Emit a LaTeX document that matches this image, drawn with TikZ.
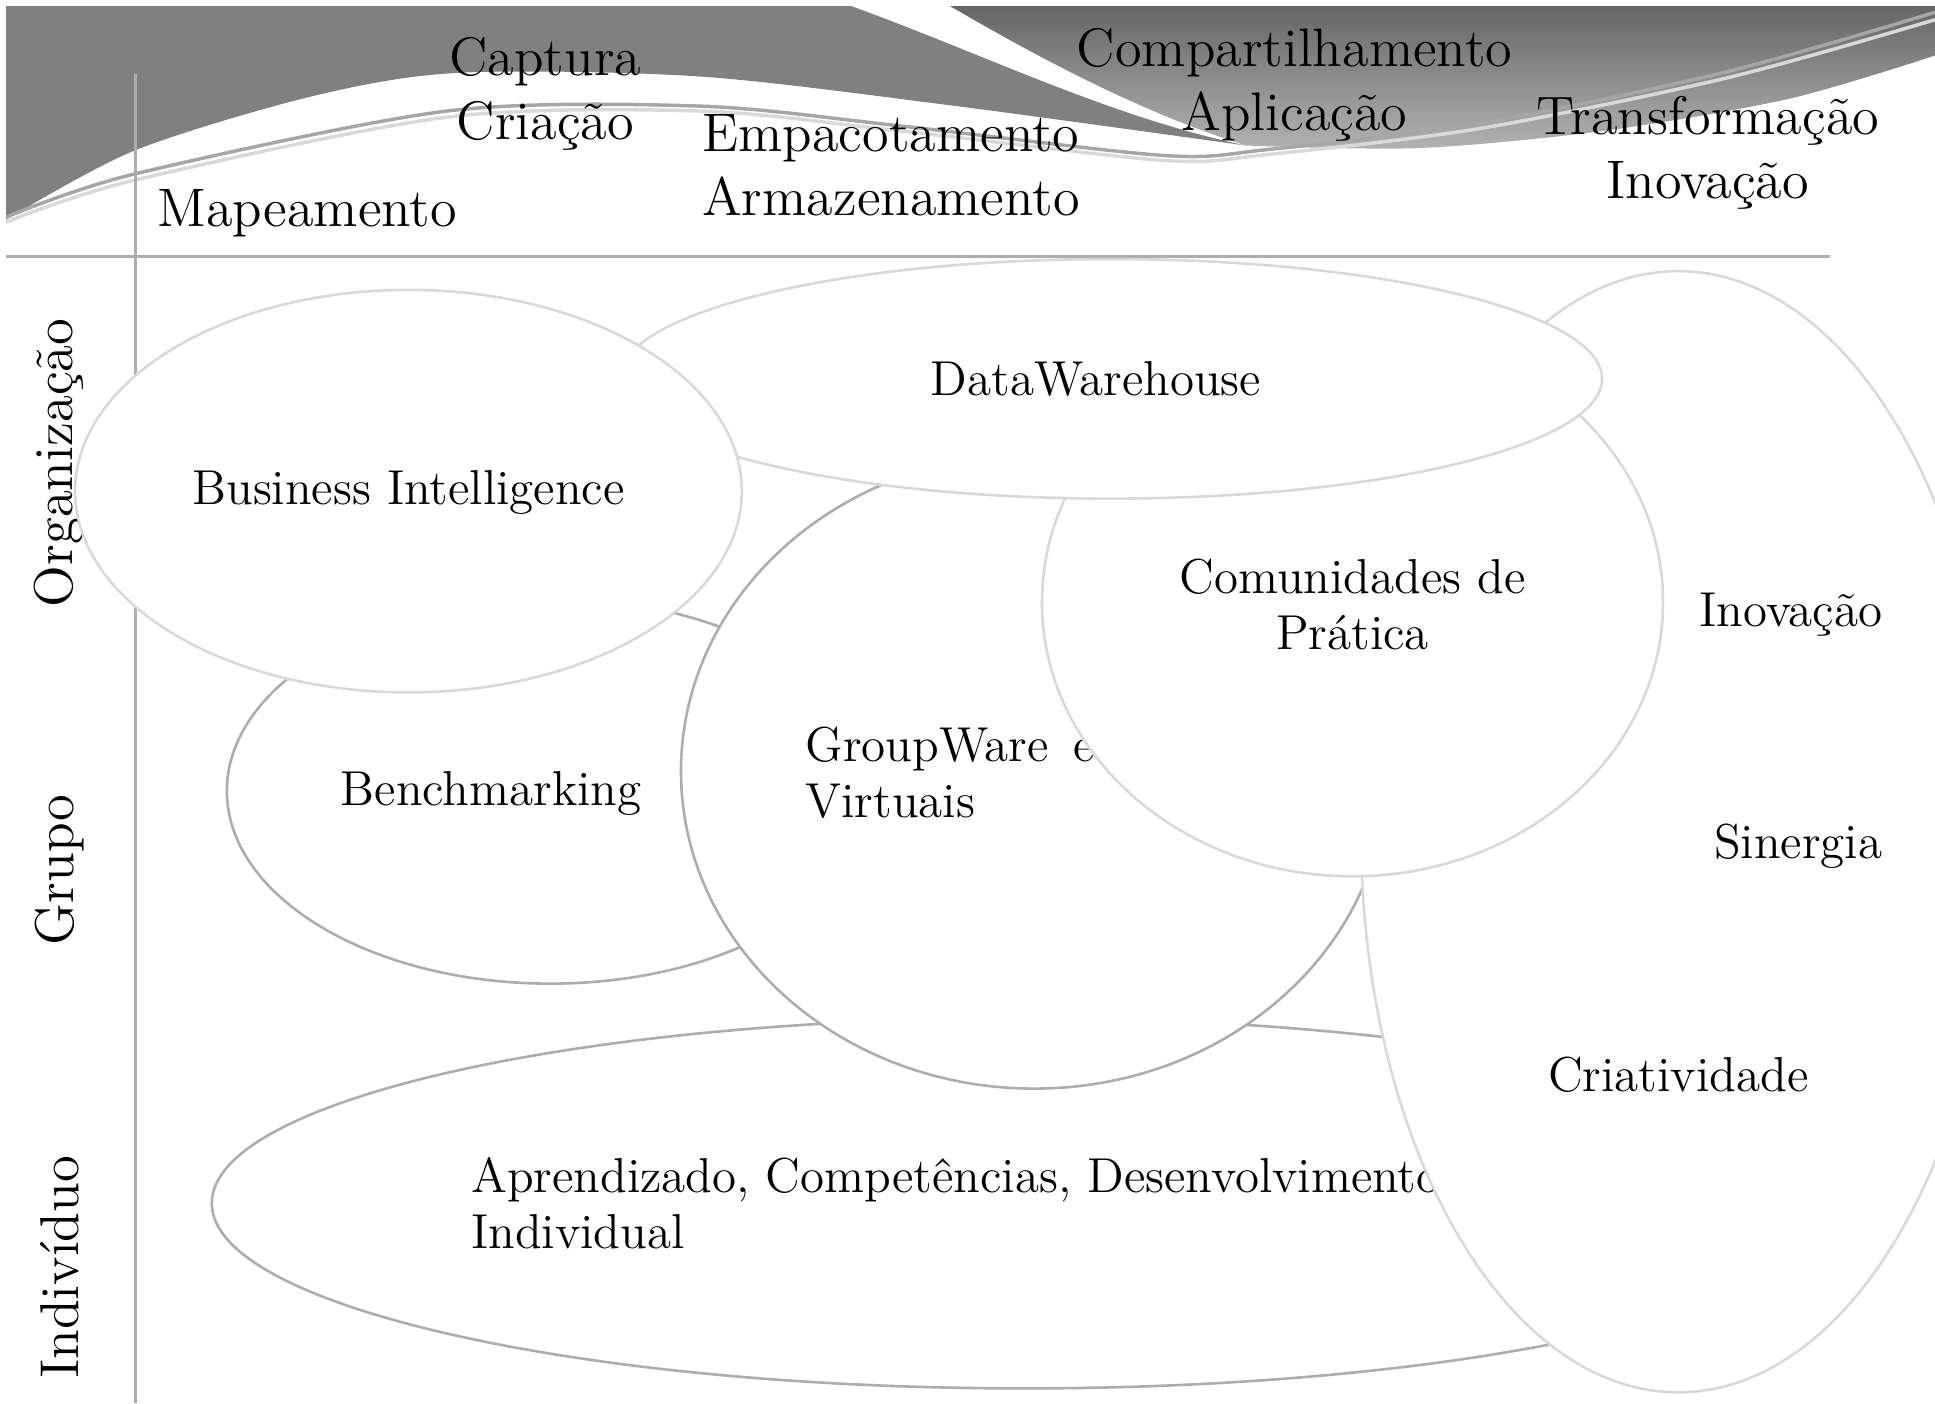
\documentclass[tikz,border=0pt]{standalone}
\usepackage{fontspec}
\usetikzlibrary{shapes.geometric}

\begin{document}
\begin{tikzpicture}[x=0.01cm,y=-0.01cm]
\tikzstyle{blob}=[ellipse,draw=black!15,line width=0.6pt,fill=white,inner sep=0pt]
\tikzstyle{blobdark}=[blob,draw=black!32]
\tikzstyle{lbl}=[font=\fontsize{11.3}{12.8}\selectfont,align=left,inner sep=0pt]
\tikzstyle{stagetxt}=[font=\fontsize{12.5}{14.8}\selectfont,align=center,inner sep=0pt]
\tikzstyle{rowname}=[font=\fontsize{12.6}{14}\selectfont,rotate=90,inner sep=0pt]
\tikzstyle{rule}=[draw=black!32,line width=0.6pt]

\clip (0,0) rectangle (1568,1137);

\fill[black!50] (5,5) -- (690,5) .. controls (800,45) and (900,95) .. (1010,118)
  -- plot[smooth] coordinates {(1010,118) (775,86) (567,62) (372,59) (253,78) (109,122) (5,178)} -- cycle;
\shade[top color=black!60,bottom color=black!30] (770,5) -- (1568,5) -- (1568,45)
  -- plot[smooth] coordinates {(1568,45) (1450,80) (1300,106) (1150,120) (1010,118)}
  .. controls (920,90) and (830,40) .. (770,5) -- cycle;
\draw[black!35,line width=0.8pt] plot[smooth] coordinates {(5,176) (109,141) (362,90) (567,86) (729,102) (943,126) (1029,121) (1200,100) (1400,58) (1568,10)};
\draw[black!15,line width=0.8pt] plot[smooth] coordinates {(5,180) (109,146) (362,95) (567,90) (729,106) (943,130) (1029,125) (1200,104) (1400,63) (1568,16)};

\node[stagetxt] (captura) at (442,76)  {Captura\\Criação} ;
\node[stagetxt] (mapa) at (249,173) {Mapeamento} ;
\node[stagetxt] (empacota) at (722,134) {Empacotamento\\Armazenamento} ;
\node[stagetxt] (partilha) at (1049,69) {Compartilhamento\\Aplicação} ;
\node[stagetxt] (transforma) at (1384,124) {Transformação\\Inovação} ;

\coordinate (hl) at (5,208) ;
\coordinate (hr) at (1483,208) ;
\coordinate (vt) at (110,60) ;
\coordinate (vb) at (110,1137) ;
\draw[rule] (hl) -- (hr) ;
\draw[rule] (vt) -- (vb) ;

\node[rowname] (org) at (48,375) {Organização} ;
\node[rowname] (grupo) at (48,705) {Grupo} ;
\node[rowname] (indiv) at (48,1027) {Indivíduo} ;

\node[blobdark,minimum width=13.16cm,minimum height=3cm] (aprend) at (830,975) {} ;
\node[lbl,anchor=west] (taprend) at (381,975) {Aprendizado, Competências, Desenvolvimento\\Individual} ;
\node[blobdark,minimum width=5.24cm,minimum height=3.12cm] (bench) at (446,641) {} ;
\node[lbl] (tbench) at (398,643) {Benchmarking} ;
\node[blobdark,minimum width=5.72cm,minimum height=5.14cm] (group) at (838,625) {} ;
\node[lbl,anchor=west] (tgroup) at (652,626) {GroupWare\hspace{0.2cm}e\\Virtuais} ;
\node[blob,minimum width=5.14cm,minimum height=9.08cm] (ideia) at (1360,674) {} ;
\node[lbl,anchor=east] (inova) at (1526,498) {Inovação} ;
\node[lbl,anchor=east] (sinergia) at (1526,686) {Sinergia} ;
\node[lbl] (cria) at (1360,871) {Criatividade} ;
\node[blob,minimum width=5.03cm,minimum height=4.44cm] (comun) at (1096,488) {} ;
\node[lbl,align=center] (tcomun) at (1096,490) {Comunidades de\\Prática} ;
\node[blob,minimum width=7.96cm,minimum height=1.94cm] (dw) at (900,307) {} ;
\node[lbl] (tdw) at (888,307) {DataWarehouse} ;
\node[blob,minimum width=5.4cm,minimum height=3.26cm] (bi) at (331,398) {} ;
\node[lbl] (tbi) at (331,399) {Business Intelligence} ;

\end{tikzpicture}
\end{document}
